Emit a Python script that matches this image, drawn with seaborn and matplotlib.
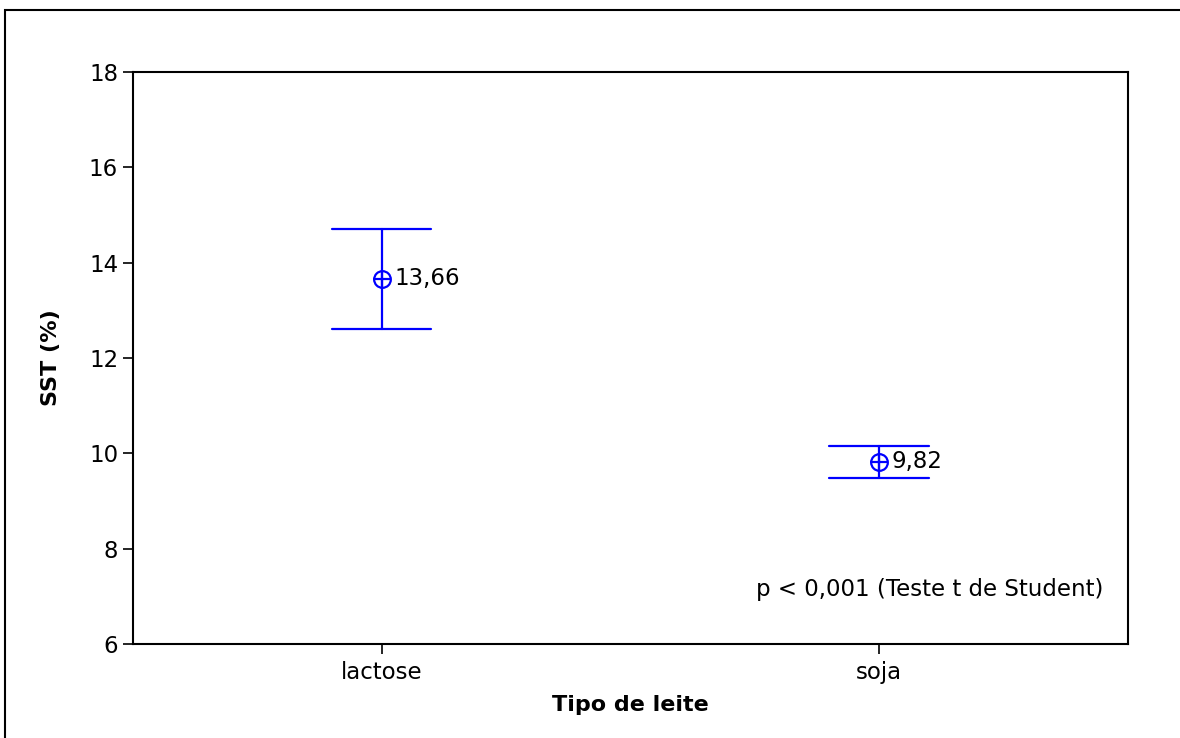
import numpy as np
import pandas as pd
import matplotlib
matplotlib.use("Agg")
import matplotlib.pyplot as plt
import seaborn as sns

# Dados (média e IC 95%)
tipos = ["lactose", "soja"]
medias = [13.66, 9.82]
ic_inferior = [12.61, 9.49]
ic_superior = [14.70, 10.15]
rotulos = ["13,66", "9,82"]

azul = "#0000FF"

# tabela longa: inferior, média, superior -> mediana = média, pi 100 = intervalo
df = pd.DataFrame({
    "tipo": np.repeat(tipos, 3),
    "sst": np.ravel(np.column_stack([ic_inferior, medias, ic_superior])),
})

sns.set_style("white")
plt.rcParams["font.family"] = ["DejaVu Sans"]
plt.rcParams["text.color"] = "black"
plt.rcParams["axes.labelcolor"] = "black"
plt.rcParams["xtick.color"] = "black"
plt.rcParams["ytick.color"] = "black"

fig = plt.figure(figsize=(11.8, 7.38), dpi=100)
ax = fig.add_axes([0.1125, 0.1274, 0.8435, 0.775])

sns.pointplot(data=df, x="tipo", y="sst", estimator="median",
              errorbar=("pi", 100), capsize=0.2, linestyle="none",
              color=azul, marker="o", markersize=12, markerfacecolor="none",
              markeredgewidth=1.6, err_kws={"linewidth": 1.6}, ax=ax)
sns.scatterplot(x=tipos, y=medias, marker="+", s=170, color=azul,
                linewidth=1.6, ax=ax, zorder=5)

for i, (m, r) in enumerate(zip(medias, rotulos)):
    ax.annotate(r, (i, m), xytext=(9, 0), textcoords="offset points",
                va="center", ha="left", fontsize=16.5)

ax.set_xlim(-0.5, 1.5)
ax.set_ylim(6, 18)
ax.set_yticks([6, 8, 10, 12, 14, 16, 18])
ax.tick_params(axis="both", direction="out", length=7, width=1.2,
               labelsize=16.5, left=True, bottom=True, color="black")
ax.tick_params(axis="x", pad=5)
for s in ax.spines.values():
    s.set_color("black")
    s.set_linewidth(1.5)

ax.set_xlabel("Tipo de leite", fontsize=16, fontweight="bold", labelpad=8)
ax.set_ylabel("SST (%)", fontsize=16, fontweight="bold", labelpad=20)

ax.text(0.975, 0.095, "p < 0,001 (Teste t de Student)", transform=ax.transAxes,
        ha="right", va="center", fontsize=16.5)

# moldura externa (só topo e esquerda visíveis)
fig.patches.append(plt.Rectangle((0.0045, -0.1), 1.2, 1.086, transform=fig.transFigure,
                                 fill=False, edgecolor="black", linewidth=1.5))

fig.savefig("out.png", dpi=100)
